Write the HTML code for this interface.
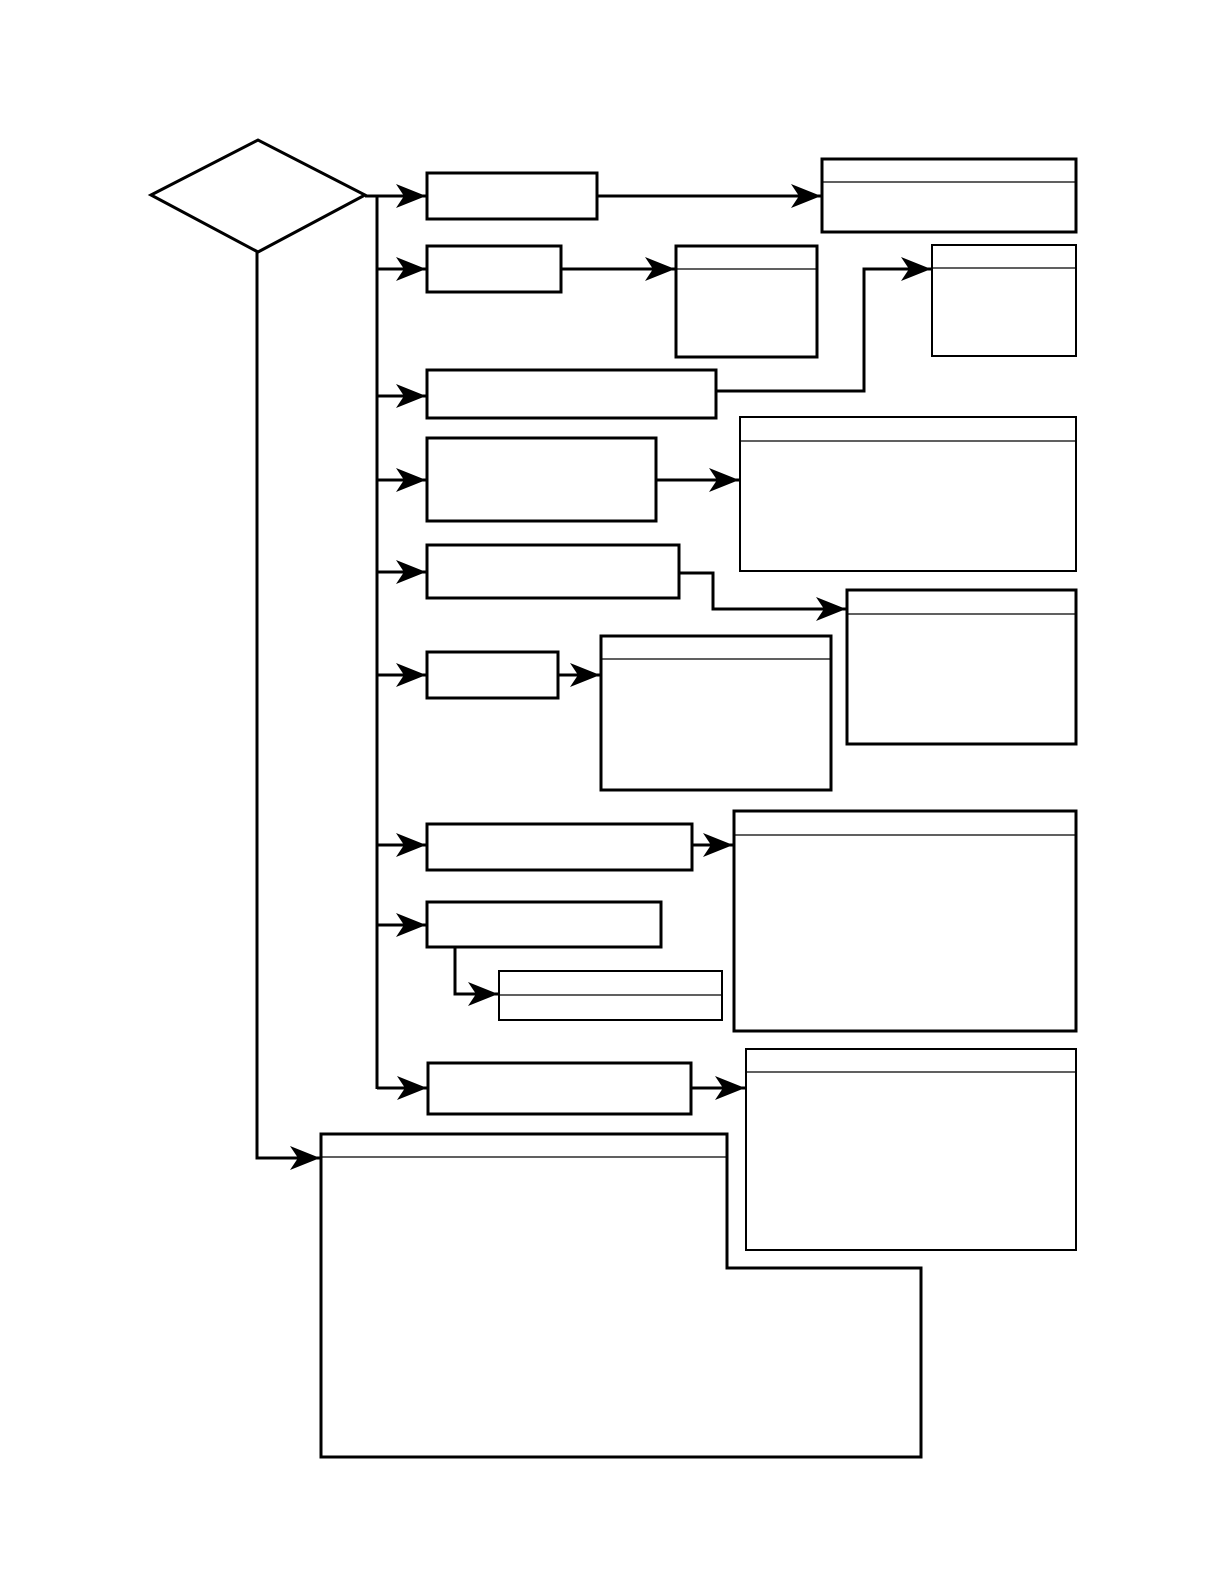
<!DOCTYPE html>
<html><head><meta charset="utf-8"><style>
html,body{margin:0;padding:0;background:#fff;}
svg{display:block;}
</style></head><body>
<svg width="1224" height="1584" viewBox="0 0 1224 1584" xmlns="http://www.w3.org/2000/svg">
<defs>
<marker id="a" markerUnits="userSpaceOnUse" markerWidth="34" markerHeight="30" refX="31" refY="14" orient="auto" overflow="visible">
<path d="M31,14 L1,2 L9,14 L1,26 Z" fill="#000"/>
</marker>
</defs>
<g fill="none" stroke="#000" stroke-width="3" stroke-linejoin="miter">
<polygon points="151,195 258,140 365,195 258,252"/>
<line x1="365" y1="196" x2="377" y2="196"/>
<line x1="377" y1="196" x2="377" y2="1089"/>
<line x1="377" y1="196" x2="426" y2="196" marker-end="url(#a)"/>
<line x1="377" y1="269" x2="426" y2="269" marker-end="url(#a)"/>
<line x1="377" y1="396" x2="426" y2="396" marker-end="url(#a)"/>
<line x1="377" y1="480" x2="426" y2="480" marker-end="url(#a)"/>
<line x1="377" y1="572" x2="426" y2="572" marker-end="url(#a)"/>
<line x1="377" y1="675" x2="426" y2="675" marker-end="url(#a)"/>
<line x1="377" y1="845" x2="426" y2="845" marker-end="url(#a)"/>
<line x1="377" y1="925" x2="426" y2="925" marker-end="url(#a)"/>
<line x1="377" y1="1088" x2="427" y2="1088" marker-end="url(#a)"/>

<rect x="427" y="173" width="170" height="46"/>
<rect x="427" y="246" width="134" height="46"/>
<rect x="427" y="370" width="289" height="48"/>
<rect x="427" y="438" width="229" height="83"/>
<rect x="427" y="545" width="252" height="53"/>
<rect x="427" y="652" width="131" height="46"/>
<rect x="427" y="824" width="265" height="46"/>
<rect x="427" y="902" width="234" height="45"/>
<rect x="428" y="1063" width="263" height="51"/>

<rect x="822" y="159" width="254" height="73"/>
<rect x="676" y="246" width="141" height="111"/>
<rect x="932" y="245" width="144" height="111" stroke-width="2"/>
<rect x="740" y="417" width="336" height="154" stroke-width="2"/>
<rect x="847" y="590" width="229" height="154"/>
<rect x="601" y="636" width="230" height="154"/>
<rect x="734" y="811" width="342" height="220"/>
<rect x="499" y="971" width="223" height="49" stroke-width="2"/>
<rect x="746" y="1049" width="330" height="201" stroke-width="2"/>
<polygon points="321,1134 727,1134 727,1268 921,1268 921,1457 321,1457"/>

<line x1="597" y1="196" x2="821" y2="196" marker-end="url(#a)"/>
<line x1="561" y1="269" x2="675" y2="269" marker-end="url(#a)"/>
<polyline points="716,391 864,391 864,269 931,269" marker-end="url(#a)"/>
<line x1="656" y1="480" x2="739" y2="480" marker-end="url(#a)"/>
<polyline points="679,573 713,573 713,609 846,609" marker-end="url(#a)"/>
<line x1="558" y1="675" x2="600" y2="675" marker-end="url(#a)"/>
<line x1="692" y1="845" x2="733" y2="845" marker-end="url(#a)"/>
<polyline points="455,947 455,994 498,994" marker-end="url(#a)"/>
<line x1="691" y1="1088" x2="745" y2="1088" marker-end="url(#a)"/>
<polyline points="257,252 257,1158 320,1158" marker-end="url(#a)"/>
</g>
<g stroke="#000" stroke-width="1.3">
<line x1="822" y1="182" x2="1076" y2="182"/>
<line x1="676" y1="269" x2="817" y2="269"/>
<line x1="932" y1="268" x2="1076" y2="268"/>
<line x1="740" y1="441" x2="1076" y2="441"/>
<line x1="847" y1="614" x2="1076" y2="614"/>
<line x1="601" y1="659" x2="831" y2="659"/>
<line x1="734" y1="835" x2="1076" y2="835"/>
<line x1="499" y1="995" x2="722" y2="995"/>
<line x1="746" y1="1072" x2="1076" y2="1072"/>
<line x1="321" y1="1157" x2="727" y2="1157"/>
</g>
</svg>
</body></html>
